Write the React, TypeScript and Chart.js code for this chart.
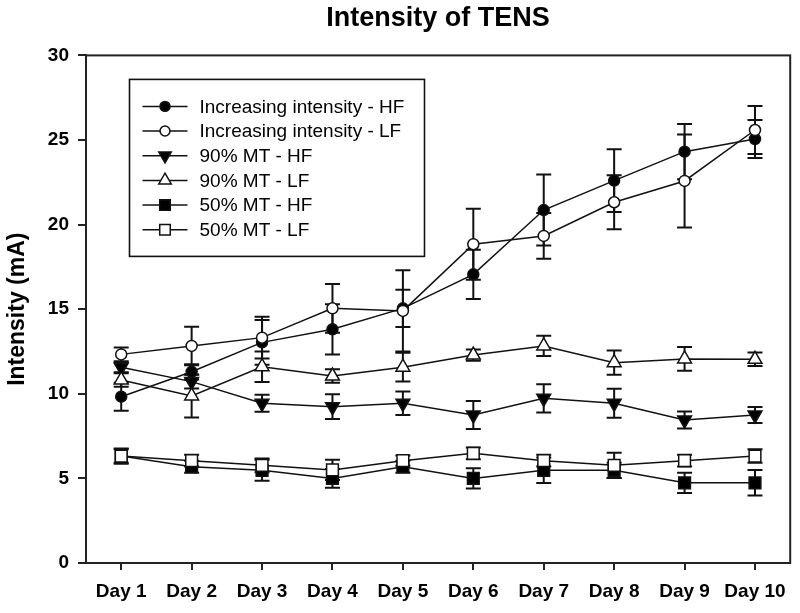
import React, { useEffect, useRef } from 'react';
import { Chart, registerables } from 'chart.js';

Chart.register(...registerables);

const days = ['Day 1', 'Day 2', 'Day 3', 'Day 4', 'Day 5', 'Day 6', 'Day 7', 'Day 8', 'Day 9', 'Day 10'];

const seriesLabels = [
  'Increasing intensity - HF',
  'Increasing intensity - LF',
  '90% MT - HF',
  '90% MT - LF',
  '50% MT - HF',
  '50% MT - LF',
];

const incHF = [9.83, 11.3, 13.04, 13.81, 15.05, 17.06, 20.86, 22.6, 24.31, 25.06];
const incHFErr = [0.83, 0.45, 1.32, 1.48, 1.1, 1.45, 2.1, 1.85, 1.63, 1.12];
const incLF = [12.33, 12.83, 13.32, 15.05, 14.9, 18.84, 19.33, 21.32, 22.58, 25.59];
const incLFErr = [0.4, 1.14, 1.24, 1.44, 2.4, 2.1, 1.35, 1.6, 2.75, 1.42];
const mt90HF = [11.57, 10.72, 9.44, 9.24, 9.44, 8.75, 9.73, 9.44, 8.45, 8.75];
const mt90HFErr = [0.3, 0.4, 0.5, 0.73, 0.7, 0.83, 0.83, 0.86, 0.5, 0.47];
const mt90LF = [10.82, 9.87, 11.6, 11.05, 11.57, 12.29, 12.83, 11.84, 12.06, 12.04];
const mt90LFErr = [0.4, 1.27, 0.9, 0.4, 0.85, 0.33, 0.6, 0.72, 0.7, 0.4];
const mt50HF = [6.32, 5.69, 5.48, 5.0, 5.69, 5.0, 5.48, 5.48, 4.74, 4.74];
const mt50HFErr = [0.4, 0.35, 0.62, 0.55, 0.35, 0.6, 0.75, 0.45, 0.6, 0.75];
const mt50LF = [6.32, 6.05, 5.77, 5.5, 6.05, 6.48, 6.05, 5.77, 6.05, 6.32];
const mt50LFErr = [0.45, 0.35, 0.4, 0.6, 0.3, 0.35, 0.35, 0.75, 0.35, 0.4];

const yMin = 0;
const yMax = 30;
const yStep = 5;

const FONT = '"Liberation Sans", Arial, Helvetica, sans-serif';
const INK = '#111';

type Marker = { style: 'circle' | 'triangle' | 'rect'; rotation: number; fill: string; radius: number };

const markers: Marker[] = [
  { style: 'circle', rotation: 0, fill: '#000', radius: 5.5 },
  { style: 'circle', rotation: 0, fill: '#fff', radius: 5.5 },
  { style: 'triangle', rotation: 180, fill: '#000', radius: 8 },
  { style: 'triangle', rotation: 0, fill: '#fff', radius: 8 },
  { style: 'rect', rotation: 0, fill: '#000', radius: 8.3 },
  { style: 'rect', rotation: 0, fill: '#fff', radius: 8.3 },
];

const values = [incHF, incLF, mt90HF, mt90LF, mt50HF, mt50LF];
const errors = [incHFErr, incLFErr, mt90HFErr, mt90LFErr, mt50HFErr, mt50LFErr];

function drawMarker(ctx: CanvasRenderingContext2D, m: Marker, x: number, y: number, scale = 1) {
  ctx.save();
  ctx.beginPath();
  const r = m.radius * scale;
  if (m.style === 'circle') {
    ctx.arc(x, y, r, 0, Math.PI * 2);
  } else if (m.style === 'triangle') {
    let rad = (m.rotation * Math.PI) / 180;
    ctx.moveTo(x + Math.sin(rad) * r, y - Math.cos(rad) * r);
    rad += (2 * Math.PI) / 3;
    ctx.lineTo(x + Math.sin(rad) * r, y - Math.cos(rad) * r);
    rad += (2 * Math.PI) / 3;
    ctx.lineTo(x + Math.sin(rad) * r, y - Math.cos(rad) * r);
    ctx.closePath();
  } else {
    const s = Math.SQRT1_2 * r;
    ctx.rect(x - s, y - s, 2 * s, 2 * s);
  }
  ctx.fillStyle = m.fill;
  ctx.fill();
  ctx.lineWidth = 1.5;
  ctx.strokeStyle = INK;
  ctx.stroke();
  ctx.restore();
}

const errorBarPlugin = {
  id: 'errorBars',
  beforeDatasetsDraw(chart: any) {
    const ctx = chart.ctx as CanvasRenderingContext2D;
    const yScale = chart.scales.y;
    ctx.save();
    ctx.strokeStyle = INK;
    ctx.lineWidth = 2;
    chart.data.datasets.forEach((ds: any, i: number) => {
      const meta = chart.getDatasetMeta(i);
      const errs: number[] = ds.errorBars || [];
      meta.data.forEach((pt: any, j: number) => {
        const v = ds.data[j];
        const e = errs[j];
        if (v == null || e == null) return;
        const x = pt.x;
        const yTop = yScale.getPixelForValue(v + e);
        const yBot = yScale.getPixelForValue(v - e);
        const hw = 7.5;
        ctx.beginPath();
        ctx.moveTo(x, yTop);
        ctx.lineTo(x, yBot);
        ctx.moveTo(x - hw, yTop);
        ctx.lineTo(x + hw, yTop);
        ctx.moveTo(x - hw, yBot);
        ctx.lineTo(x + hw, yBot);
        ctx.stroke();
      });
    });
    ctx.restore();
  },
};

const frameAndLegendPlugin = {
  id: 'frameLegend',
  afterDraw(chart: any) {
    const ctx = chart.ctx as CanvasRenderingContext2D;
    const a = chart.chartArea;
    ctx.save();
    // plot frame
    ctx.strokeStyle = '#222';
    ctx.lineWidth = 2;
    ctx.strokeRect(a.left, a.top, a.right - a.left, a.bottom - a.top);

    // legend box
    const bx = a.left + 43.5;
    const by = a.top + 24;
    const bw = 295;
    const bh = 177;
    ctx.fillStyle = '#fff';
    ctx.fillRect(bx, by, bw, bh);
    ctx.strokeStyle = INK;
    ctx.lineWidth = 1.6;
    ctx.strokeRect(bx, by, bw, bh);

    ctx.font = `19px ${FONT}`;
    ctx.textBaseline = 'middle';
    ctx.textAlign = 'left';
    chart.data.datasets.forEach((ds: any, i: number) => {
      const ry = by + 27 + i * 24.66;
      ctx.beginPath();
      ctx.strokeStyle = INK;
      ctx.lineWidth = 1.5;
      ctx.moveTo(bx + 13, ry);
      ctx.lineTo(bx + 58, ry);
      ctx.stroke();
      drawMarker(ctx, markers[i], bx + 35.5, ry, 0.9);
      ctx.fillStyle = '#000';
      ctx.fillText(ds.label, bx + 70, ry + 1);
    });
    ctx.restore();
  },
};

export default function App() {
  const canvasRef = useRef<HTMLCanvasElement | null>(null);

  useEffect(() => {
    if (!canvasRef.current) return;
    const datasets = values.map((vals, i) => ({
      label: seriesLabels[i],
      data: vals,
      errorBars: errors[i],
      borderColor: INK,
      borderWidth: 1.5,
      backgroundColor: markers[i].fill,
      pointStyle: markers[i].style,
      pointRotation: markers[i].rotation,
      pointRadius: markers[i].radius,
      pointHoverRadius: markers[i].radius,
      pointBackgroundColor: markers[i].fill,
      pointBorderColor: INK,
      pointBorderWidth: 1.5,
      tension: 0,
      fill: false,
      order: values.length - i,
    }));

    const chart = new Chart(canvasRef.current, {
      type: 'line',
      data: { labels: days, datasets: datasets as any },
      plugins: [errorBarPlugin, frameAndLegendPlugin],
      options: {
        animation: false,
        responsive: false,
        devicePixelRatio: 1,
        layout: { padding: { left: 0, right: 9, top: 0, bottom: 0 } },
        plugins: {
          legend: { display: false },
          tooltip: { enabled: false },
          title: {
            display: true,
            text: 'Intensity of TENS',
            fullSize: false,
            color: '#000',
            font: { family: FONT, size: 27, weight: 'bold' },
            padding: { top: 2, bottom: 21 },
          },
        },
        scales: {
          x: {
            type: 'category',
            offset: true,
            grid: {
              display: true,
              drawOnChartArea: false,
              drawTicks: true,
              tickLength: 7,
              lineWidth: 2,
              color: '#222',
              offset: false,
            },
            border: { display: true, width: 2, color: '#222' },
            ticks: {
              color: '#000',
              font: { family: FONT, size: 19, weight: 'bold' },
              padding: 10,
              maxRotation: 0,
              autoSkip: false,
            },
            afterFit(scale: any) {
              scale.height = 50;
            },
          },
          y: {
            type: 'linear',
            min: yMin,
            max: yMax,
            grid: {
              display: true,
              drawOnChartArea: false,
              drawTicks: true,
              tickLength: 8,
              lineWidth: 2,
              color: '#222',
            },
            border: { display: true, width: 2, color: '#222' },
            ticks: {
              stepSize: yStep,
              color: '#000',
              font: { family: FONT, size: 19, weight: 'bold' },
              padding: 9,
            },
            title: {
              display: true,
              text: 'Intensity (mA)',
              color: '#000',
              font: { family: FONT, size: 23, weight: 'bold' },
              padding: { top: 4, bottom: 0 },
            },
            afterFit(scale: any) {
              scale.width = 86;
            },
          },
        },
      } as any,
    });
    return () => chart.destroy();
  }, []);

  return (
    <div style={{ position: 'fixed', left: 0, top: 0, width: 800, height: 613, background: '#fff' }}>
      <canvas ref={canvasRef} width={800} height={613} style={{ display: 'block' }} />
    </div>
  );
}
